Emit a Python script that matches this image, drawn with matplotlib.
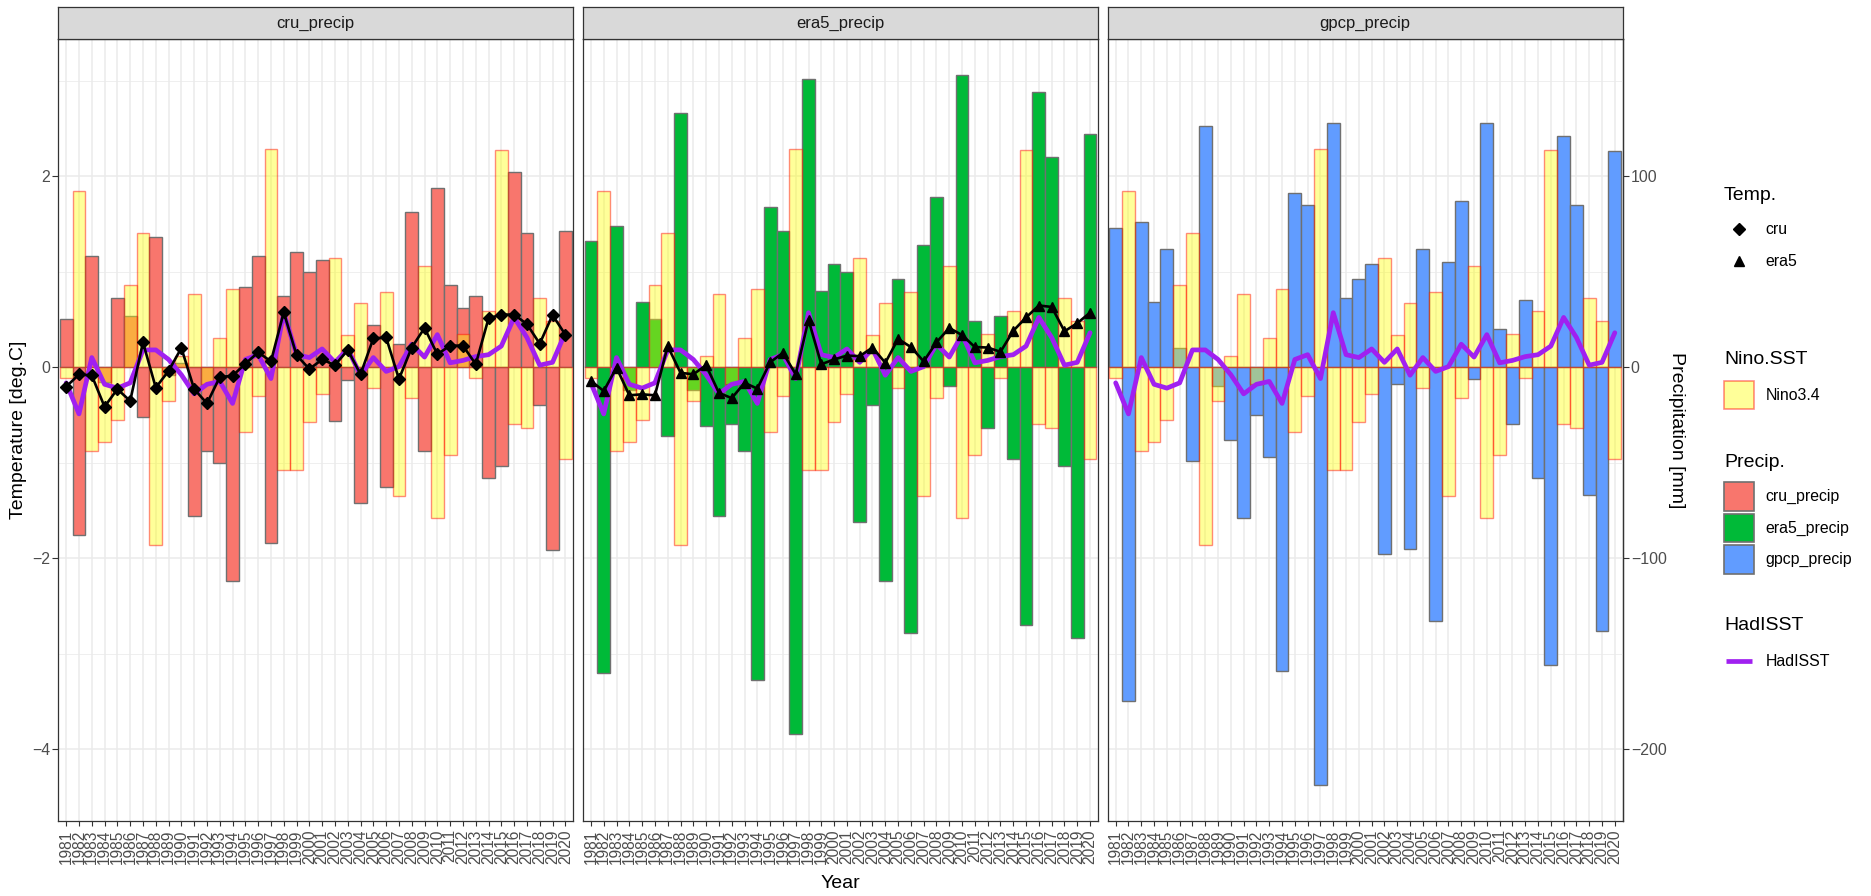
import numpy as np
import matplotlib
matplotlib.use("Agg")
import matplotlib.pyplot as plt
from matplotlib.patches import Rectangle

plt.rcParams['font.family'] = ['Liberation Sans', 'DejaVu Sans']

# ---------------------------------------------------------------- data
years = list(range(1981, 2021))

# Nino3.4 SST anomaly [deg C]
nino34 = [-0.115, 1.84, -0.88, -0.78, -0.55, 0.86, 1.40, -1.86, -0.36, 0.115,
          0.77, -0.18, 0.30, 0.82, -0.68, -0.30, 2.28, -1.08, -1.08, -0.57,
          -0.28, 1.14, 0.34, 0.67, -0.22, 0.79, -1.35, -0.32, 1.06, -1.58,
          -0.92, 0.35, -0.115, 0.59, 2.27, -0.60, -0.64, 0.72, 0.48, -0.96]

# HadISST anomaly [deg C]
hadisst = [-0.165, -0.49, 0.10, -0.18, -0.22, -0.165, 0.18, 0.18, 0.08, -0.08,
           -0.28, -0.18, -0.15, -0.38, 0.08, 0.13, -0.12, 0.57, 0.13, 0.10,
           0.19, 0.05, 0.19, -0.085, 0.10, -0.045, 0.005, 0.24, 0.105, 0.34,
           0.045, 0.07, 0.11, 0.13, 0.22, 0.52, 0.31, 0.02, 0.05, 0.36]

# Air temperature anomaly [deg C]
temp_cru = [-0.205, -0.077, -0.087, -0.415, -0.23, -0.355, 0.26, -0.215, -0.04, 0.20,
            -0.23, -0.38, -0.105, -0.09, 0.035, 0.155, 0.06, 0.575, 0.125, -0.02,
            0.08, 0.02, 0.18, -0.075, 0.30, 0.31, -0.125, 0.205, 0.41, 0.135,
            0.225, 0.225, 0.03, 0.51, 0.55, 0.55, 0.45, 0.245, 0.545, 0.34]
temp_era5 = [-0.145, -0.25, -0.005, -0.295, -0.285, -0.295, 0.22, -0.06, -0.075, 0.02,
             -0.27, -0.325, -0.165, -0.225, 0.05, 0.15, -0.075, 0.495, 0.03, 0.08,
             0.12, 0.115, 0.205, 0.045, 0.295, 0.21, 0.06, 0.26, 0.41, 0.335,
             0.21, 0.205, 0.16, 0.38, 0.52, 0.645, 0.63, 0.375, 0.46, 0.57]

# Precipitation anomaly [mm]
precip_cru = [25, -88, 58, -8, 36, 27, -26, 68, -4, 2,
              -78, -44, -50, -112, 42, 58, -92, 37, 60, 50,
              56, -28, -7, -71, 22, -63, 12, 81, -44, 94,
              43, 31, 37, -58, -52, 102, 70, -20, -96, 71]
precip_era5 = [66, -160, 74, -12, 34, 25, -36, 133, -12, -31,
               -78, -30, -44, -164, 84, 71, -192, 151, 40, 54,
               50, -81, -20, -112, 46, -139, 64, 89, -10, 153,
               24, -32, 27, -48, -135, 144, 110, -52, -142, 122]
precip_gpcp = [73, -175, 76, 34, 62, 10, -49, 126, -10, -38,
               -79, -25, -47, -159, 91, 85, -219, 128, 36, 46,
               54, -98, -9, -95, 62, -133, 55, 87, -6, 128,
               20, -30, 35, -58, -156, 121, 85, -67, -138, 113]

facets = ["cru_precip", "era5_precip", "gpcp_precip"]
precip = {"cru_precip": precip_cru, "era5_precip": precip_era5,
          "gpcp_precip": precip_gpcp}
temps = {"cru_precip": temp_cru, "era5_precip": temp_era5, "gpcp_precip": None}
temp_markers = {"cru_precip": "D", "era5_precip": "^"}

PRECIP_SCALE = 50.0  # mm of precipitation per deg C on the secondary axis

# ---------------------------------------------------------------- style
precip_colors = {"cru_precip": "#F8766D", "era5_precip": "#00BA38",
                 "gpcp_precip": "#619CFF"}
nino_face = (1.0, 1.0, 0.0, 0.4)
nino_edge = (1.0, 0.0, 0.0, 0.45)
bar_edge = "#707070"
sst_color = "#A020F0"
grid_col = "#EBEBEB"
frame_col = "#333333"
tick_lab_col = "#4D4D4D"

W, H = 1871, 896
fig = plt.figure(figsize=(W / 100, H / 100), dpi=100)
fig.patch.set_facecolor("white")


def px_rect(x0, y0, x1, y1):
    return [x0 / W, 1 - y1 / H, (x1 - x0) / W, (y1 - y0) / H]


PANEL_LEFTS = [58.5, 583.25, 1108.0]
PANEL_W = 514.5
PANEL_TOP, PANEL_BOTTOM = 39.3, 821.0
STRIP_TOP = 7.0

x = np.arange(len(years))

# shared y range with 5 % expansion, as for fixed facet scales
all_vals = (nino34 + hadisst + temp_cru + temp_era5 +
            [v / PRECIP_SCALE for v in precip_cru + precip_era5 + precip_gpcp])
lo, hi = min(all_vals), max(all_vals)
pad = 0.05 * (hi - lo)
ylo, yhi = lo - pad, hi + pad

for k, name in enumerate(facets):
    left = PANEL_LEFTS[k]
    ax = fig.add_axes(px_rect(left, PANEL_TOP, left + PANEL_W, PANEL_BOTTOM))
    ax.set_facecolor("white")
    ax.set_xlim(-0.6, len(years) - 1 + 0.6)
    ax.set_ylim(ylo, yhi)
    ax.set_axisbelow(True)

    ax.set_yticks([-4, -2, 0, 2])
    ax.set_yticks([-3, -1, 1, 3], minor=True)
    ax.set_xticks(x)
    ax.set_xticklabels([str(y) for y in years], rotation=90)
    ax.grid(which="major", color=grid_col, lw=1.1)
    ax.grid(which="minor", axis="y", color=grid_col, lw=0.55)

    for sp in ax.spines.values():
        sp.set_color(frame_col)
        sp.set_linewidth(0.9)

    ax.tick_params(axis="x", length=3.5, width=0.8, color=frame_col,
                   labelsize=11.2, labelcolor=tick_lab_col, pad=2.5)
    ax.tick_params(axis="y", which="major", length=4, width=0.8, color=frame_col,
                   labelsize=11.4, labelcolor=tick_lab_col, pad=2)
    ax.tick_params(axis="y", which="minor", left=False)
    if k > 0:
        ax.tick_params(axis="y", which="both", left=False, labelleft=False)

    # precipitation bars on the temperature scale
    ax.bar(x, np.array(precip[name]) / PRECIP_SCALE, width=1.0,
           color=precip_colors[name], edgecolor=bar_edge, linewidth=1.0, zorder=2)
    # Nino3.4 bars, translucent on top
    ax.bar(x, nino34, width=1.0, facecolor=nino_face, edgecolor=nino_edge,
           linewidth=1.0, zorder=3)
    # HadISST line
    ax.plot(x, hadisst, color=sst_color, lw=3.4, zorder=4,
            solid_joinstyle="round", solid_capstyle="round")
    # temperature line
    t = temps[name]
    if t is not None:
        m = temp_markers[name]
        ax.plot(x, t, color="black", lw=1.9, marker=m,
                ms=6.0 if m == "D" else 6.8, zorder=5)

    if k == len(facets) - 1:
        sec = ax.secondary_yaxis(
            "right", functions=(lambda v: v * PRECIP_SCALE, lambda v: v / PRECIP_SCALE))
        sec.set_yticks([-200, -100, 0, 100])
        sec.tick_params(axis="y", length=4, width=0.8, color=frame_col,
                        labelsize=11.4, labelcolor=tick_lab_col, pad=2)
        sec.spines["right"].set_color(frame_col)
        sec.spines["right"].set_linewidth(0.9)

    # facet strip
    sx = fig.add_axes(px_rect(left, STRIP_TOP, left + PANEL_W, PANEL_TOP))
    sx.set_facecolor("#D9D9D9")
    sx.set_xticks([])
    sx.set_yticks([])
    for sp in sx.spines.values():
        sp.set_color(frame_col)
        sp.set_linewidth(0.9)
    sx.text(0.5, 0.5, name, ha="center", va="center", fontsize=12,
            color="#1A1A1A", transform=sx.transAxes)

# ---------------------------------------------------------------- titles and legend
ov = fig.add_axes([0, 0, 1, 1])
ov.set_xlim(0, W)
ov.set_ylim(H, 0)
ov.axis("off")
ov.patch.set_alpha(0)

ov.text(19, 430, "Temperature [deg.C]", rotation=90, ha="center", va="center",
        fontsize=14)
ov.text(1677, 430, "Precipitation [mm]", rotation=270, ha="center", va="center",
        fontsize=14)
ov.text(840.5, 884, "Year", ha="center", va="center", fontsize=14)

LEG_X = 1724
KEY_W = 30
LAB_X = 1765.5

# Temp.
ov.text(LEG_X, 195, "Temp.", ha="left", va="center", fontsize=14)
ov.plot([LEG_X + KEY_W / 2], [229], marker="D", color="black", ms=6.0)
ov.plot([LEG_X + KEY_W / 2], [261], marker="^", color="black", ms=6.8)
ov.text(LAB_X, 230, "cru", ha="left", va="center", fontsize=11.4)
ov.text(LAB_X, 262, "era5", ha="left", va="center", fontsize=11.4)

# Nino.SST
ov.text(LEG_X, 360, "Nino.SST", ha="left", va="center", fontsize=14)
ov.add_patch(Rectangle((LEG_X, 381), KEY_W, 28.5, facecolor=nino_face,
                       edgecolor=nino_edge, linewidth=1.2))
ov.text(LAB_X, 395, "Nino3.4", ha="left", va="center", fontsize=11.4)

# Precip.
ov.text(LEG_X, 462.5, "Precip.", ha="left", va="center", fontsize=14)
for j, name in enumerate(facets):
    y0 = 482.3 + j * 31.5
    ov.add_patch(Rectangle((LEG_X, y0), KEY_W, 28.5, facecolor=precip_colors[name],
                           edgecolor=bar_edge, linewidth=1.2))
    ov.text(LAB_X, y0 + 14.5, name, ha="left", va="center", fontsize=11.4)

# HadISST
ov.text(LEG_X, 626, "HadISST", ha="left", va="center", fontsize=14)
ov.plot([LEG_X + 2, LEG_X + KEY_W - 2], [661, 661], color=sst_color, lw=3.4,
        solid_capstyle="butt")
ov.text(LAB_X, 661, "HadISST", ha="left", va="center", fontsize=11.4)

fig.savefig("out.png", dpi=100, facecolor="white")
